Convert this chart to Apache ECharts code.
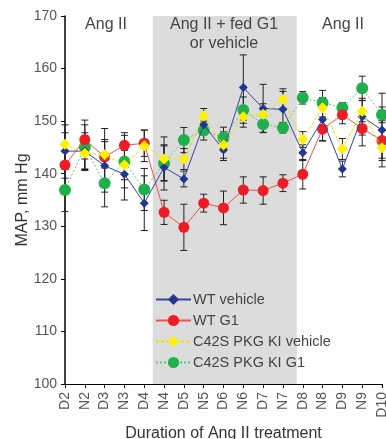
<!DOCTYPE html>
<html><head><meta charset="utf-8">
<script src="https://cdn.jsdelivr.net/npm/echarts@6/dist/echarts.min.js"></script>
<style>html,body{margin:0;padding:0;background:#fff}#c{width:386px;height:439px}</style>
</head><body><div id="c"></div>
<script>
const categories = ['D2','N2','D3','N3','D4','N4','D5','N5','D6','N6','D7','N7','D8','N8','D9','N9','D10'];
const yTicks = [100,110,120,130,140,150,160,170];
const wtVehicle = [144.3,144.3,141.5,139.9,134.4,141.2,139.0,149.3,144.5,156.4,152.4,152.25,144.0,150.3,140.9,150.85,148.3];
const wtG1 = [141.65,146.5,143.2,145.4,145.8,132.65,129.8,134.4,133.5,136.9,136.8,138.2,139.9,148.5,151.2,148.6,146.3];
const kiVehicle = [145.6,143.9,143.6,141.65,145.3,142.8,142.8,151.0,145.45,150.85,151.3,154.15,146.5,152.55,144.7,151.9,144.95];
const kiG1 = [136.9,145.1,138.2,142.3,137.0,142.0,146.4,148.2,146.85,152.1,149.4,148.75,154.45,153.5,152.55,156.25,151.2];
const wtVehicleErr = [3.5,3.5,5.0,4.9,5.2,4.3,1.5,1.9,2.0,6.2,4.6,3.4,1.5,4.0,1.5,3.5,7.0];
const wtG1Err = [2.5,3.7,5.4,2.4,2.5,2.3,4.4,1.7,3.2,2.5,2.6,1.6,2.8,2.3,1.7,3.3,3.8];
const kiVehicleErr = [3.7,3.3,2.5,2.8,3.0,4.2,2.0,1.4,2.5,2.0,2.0,2.0,1.5,3.3,2.0,2.0,2.0];
const kiG1Err = [4.1,4.2,4.5,5.0,4.0,3.3,2.4,1.8,2.0,2.5,1.5,1.0,1.2,1.0,1.0,2.3,1.5];
const shadeRange = [4.43, 11.7];
const seriesNames = ['WT vehicle','WT G1','C42S PKG KI vehicle','C42S PKG KI G1'];
const annotations = [['Ang II',106,25],['Ang II + fed G1',224,25],['or vehicle',224,44],['Ang II',343,25]];

const FONT = 'Arial, "Liberation Sans", sans-serif';
const chart = echarts.init(document.getElementById('c'));

function pts(arr){ return arr.map((v,i)=>[i,v]); }
function errData(vals, errs){ return vals.map((v,i)=>[i,v,errs[i]]); }
function errSeries(vals, errs){
  return {
    type:'custom', silent:true, z:1, clip:false,
    data: errData(vals, errs),
    encode:{x:0,y:1},
    renderItem: function(params, api){
      const x = api.value(0), v = api.value(1), e = api.value(2);
      const top = api.coord([x, v+e]);
      const bot = api.coord([x, v-e]);
      const hw = 3.5;
      const st = {stroke:'#222', lineWidth:1};
      return {type:'group', children:[
        {type:'line', shape:{x1:top[0],y1:top[1],x2:bot[0],y2:bot[1]}, style:st},
        {type:'line', shape:{x1:top[0]-hw,y1:top[1],x2:top[0]+hw,y2:top[1]}, style:st},
        {type:'line', shape:{x1:bot[0]-hw,y1:bot[1],x2:bot[0]+hw,y2:bot[1]}, style:st}
      ]};
    }
  };
}

const option = {
  animation:false,
  grid:{left:65, right:4, top:16, bottom:55, containLabel:false, outerBoundsMode:'none'},
  xAxis:{
    type:'value', min:0, max:categories.length-1, interval:1,
    name:'Duration of Ang II treatment', nameLocation:'middle', nameGap:42, nameMoveOverlap:false,
    nameTextStyle:{fontFamily:FONT, fontSize:16, color:'#333'},
    axisLine:{show:true, onZero:false, lineStyle:{color:'#000', width:1.2}},
    axisTick:{show:true, length:4, lineStyle:{color:'#000'}},
    splitLine:{show:false},
    axisLabel:{rotate:90, margin:8, fontFamily:FONT, fontSize:14, color:'#555',
      formatter:(v)=>categories[Math.round(v)] || ''}
  },
  yAxis:{
    type:'value', min:yTicks[0], max:yTicks[yTicks.length-1], interval:10,
    name:'MAP, mm Hg', nameLocation:'middle', nameGap:34, nameMoveOverlap:false,
    nameTextStyle:{fontFamily:FONT, fontSize:16, color:'#333'},
    axisLine:{show:true, lineStyle:{color:'#000', width:1.5}},
    axisTick:{show:true, length:4, lineStyle:{color:'#000'}},
    splitLine:{show:false},
    axisLabel:{margin:8, fontFamily:FONT, fontSize:14, color:'#555'}
  },
  legend:{
    orient:'vertical', left:150, top:287, itemWidth:35, itemHeight:14, itemGap:6,
    itemStyle:{borderWidth:0},
    textStyle:{fontFamily:FONT, fontSize:14.5, color:'#444', padding:[0,0,0,-3]},
    data:seriesNames
  },
  graphic: annotations.map(a=>({
    type:'text', x:a[1], y:a[2], z:10,
    style:{text:a[0], fill:'#444', font:'16px '+FONT, align:'center', verticalAlign:'middle', textAlign:'center', textVerticalAlign:'middle'}
  })),
  series:[
    {type:'line', name:'_shade', data:[], silent:true, clip:false, z:0,
      markArea:{silent:true, itemStyle:{color:'#dcdcdc'},
        data:[[{xAxis:shadeRange[0], yAxis:100},{xAxis:shadeRange[1], yAxis:170.7}]]}},
    errSeries(wtVehicle, wtVehicleErr),
    errSeries(wtG1, wtG1Err),
    errSeries(kiVehicle, kiVehicleErr),
    errSeries(kiG1, kiG1Err),
    {type:'line', name:seriesNames[0], data:pts(wtVehicle), z:5,
      symbol:'diamond', symbolSize:9, color:'#223690',
      lineStyle:{color:'#34459a', width:1}, itemStyle:{color:'#223690'}},
    {type:'line', name:seriesNames[1], data:pts(wtG1), z:4,
      symbol:'circle', symbolSize:11, color:'#ee1c25',
      lineStyle:{color:'#f05050', width:1}, itemStyle:{color:'#ee1c25'}},
    {type:'line', name:seriesNames[2], data:pts(kiVehicle), z:6,
      symbol:'diamond', symbolSize:11, color:'#fff000',
      lineStyle:{color:'#e9e000', width:1, type:[3,2]}, itemStyle:{color:'#fff000'}},
    {type:'line', name:seriesNames[3], data:pts(kiG1), z:3,
      symbol:'circle', symbolSize:12, color:'#1fb04b',
      lineStyle:{color:'#5cc47a', width:1, type:[2,2]}, itemStyle:{color:'#1fb04b'}}
  ]
};
chart.setOption(option);
</script></body></html>
